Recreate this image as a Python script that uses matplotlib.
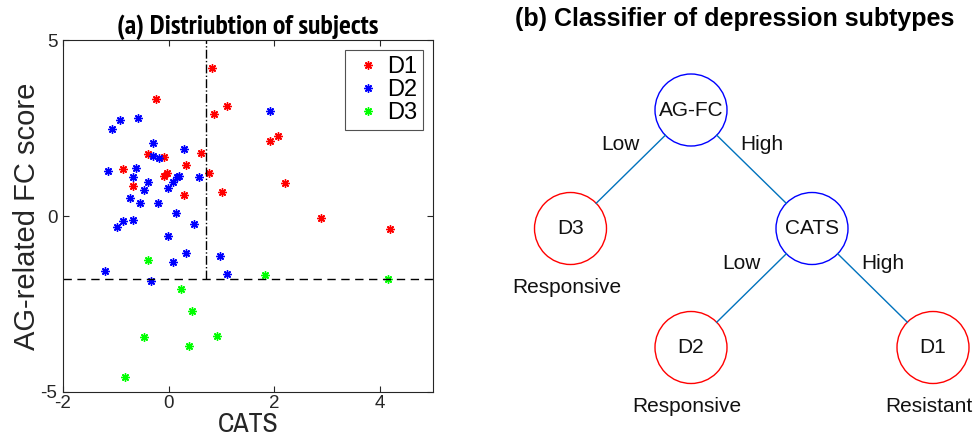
import matplotlib
matplotlib.use("Agg")
import matplotlib.pyplot as plt
from matplotlib.patches import Circle
from matplotlib import font_manager as fm
import numpy as np

plt.rcParams['font.family'] = ['Liberation Sans', 'DejaVu Sans']
plt.rcParams['axes.unicode_minus'] = False

_cands = ['Liberation Sans Narrow', 'Nimbus Sans Narrow', 'Arial Narrow', 'Archivo Narrow',
          'PT Sans Narrow', 'Roboto Condensed', 'IBM Plex Sans Condensed']
_fonts = fm.fontManager.ttflist


def _pick(min_weight):
    for n in _cands:
        for f in _fonts:
            w = f.weight if isinstance(f.weight, int) else (700 if f.weight == 'bold' else 400)
            if f.name == n and f.style == 'normal' and w >= min_weight and w <= min_weight + 200:
                return n
    return 'Liberation Sans'


NARROW = _pick(400)
NARROW_BOLD = _pick(700)

# ---- data (panel a) ----
d1_x = [0.82, -0.24, 1.11, 0.86, -0.40, -0.09, 0.62, 0.33, -0.87, -0.08, -0.03, 0.76,
        -0.68, 0.29, 1.00, 2.06, 1.91, 2.20, 2.88, 4.18]
d1_y = [4.21, 3.31, 3.12, 2.89, 1.76, 1.68, 1.79, 1.46, 1.34, 1.15, 1.22, 1.21,
        0.86, 0.59, 0.67, 2.27, 2.13, 0.94, -0.06, -0.38]
d2_x = [1.92, -0.93, -0.59, -1.07, -0.29, 0.29, -0.29, -0.19, -1.15, -0.62, -0.67, -0.40,
        0.20, 0.15, 0.09, 0.57, -0.47, -0.01, -0.73, -0.54, -0.20, 0.13, -0.68, -0.86,
        -0.97, 0.48, -0.01, 0.09, 0.33, -1.21, -0.33, 0.97, 1.10]
d2_y = [2.98, 2.74, 2.78, 2.47, 2.07, 1.89, 1.71, 1.64, 1.28, 1.37, 1.11, 0.97,
        1.13, 1.11, 0.97, 1.11, 0.75, 0.79, 0.52, 0.37, 0.38, 0.09, -0.11, -0.14,
        -0.30, -0.23, -0.57, -1.31, -1.05, -1.56, -1.85, -1.13, -1.64]
d3_x = [-0.40, 0.23, 0.44, -0.47, 0.38, 0.91, -0.82, 1.82, 4.14]
d3_y = [-1.24, -2.07, -2.70, -3.43, -3.69, -3.40, -4.57, -1.68, -1.79]
cut_cats = 0.7
cut_agfc = -1.8
x_ticks = [-2, 0, 2, 4]
y_ticks = [-5, 0, 5]

# ---- data (panel b) ----
node_labels = ['AG-FC', 'D3', 'CATS', 'D2', 'D1']
node_kind = ['split', 'leaf', 'split', 'leaf', 'leaf']
edges = [(0, 1, 'Low'), (0, 2, 'High'), (2, 3, 'Low'), (2, 4, 'High')]
leaf_notes = {1: 'Responsive', 3: 'Responsive', 4: 'Resistant'}

W, H = 978, 443
fig = plt.figure(figsize=(W / 100, H / 100), dpi=100)

# ---------------- panel (a) ----------------
ax = fig.add_axes([63 / W, (H - 392) / H, 370 / W, 352 / H])
mk = (8, 2, 0)
ax.plot(d1_x, d1_y, linestyle='none', marker=mk, color='#ff0000', ms=6, mew=1.0, label='D1')
ax.plot(d2_x, d2_y, linestyle='none', marker=mk, color='#0000ff', ms=6, mew=1.0, label='D2')
ax.plot(d3_x, d3_y, linestyle='none', marker=mk, color='#00ff00', ms=6, mew=1.0, label='D3')
ax.axhline(cut_agfc, color='black', ls=(0, (6, 4)), lw=1.0)
ax.plot([cut_cats, cut_cats], [cut_agfc, 5], color='black', ls='-.', lw=1.0)
ax.set_xlim(-2, 5)
ax.set_ylim(-5, 5)
ax.set_xticks(x_ticks)
ax.set_yticks(y_ticks)
ax.tick_params(direction='in', top=True, right=True, length=4, width=0.8,
               labelsize=13.5, labelcolor='#262626', color='#262626')
ax.tick_params(axis='x', pad=2)
ax.tick_params(axis='y', pad=4)
for s in ax.spines.values():
    s.set_color('#262626')
    s.set_linewidth(0.8)
ax.set_xlabel('CATS', fontsize=20, color='#262626', labelpad=0, family=[NARROW, 'Liberation Sans'])
ax.set_ylabel('AG-related FC score', fontsize=21, color='#262626', labelpad=0)
ax.set_title('(a) Distriubtion of subjects', fontsize=20, fontweight='bold',
             family=[NARROW_BOLD, 'Liberation Sans'], pad=4)
leg = ax.legend(loc='upper right', fontsize=17, frameon=True, fancybox=False,
                edgecolor='#262626', borderpad=0.25, handlelength=1.45,
                handletextpad=0.08, labelspacing=0.05, borderaxespad=0.42,
                markerscale=1.0)
leg.get_frame().set_linewidth(0.8)

# ---------------- panel (b) ----------------
bx = fig.add_axes([489 / W, 0, (W - 489) / W, 1])
bx.set_xlim(489, W)
bx.set_ylim(H, 0)
bx.axis('off')
node_x = [691, 570.5, 812, 691, 933]
node_y = [110, 228.5, 228.5, 347.5, 347.5]
r = 36
for i, (lab, kind) in enumerate(zip(node_labels, node_kind)):
    col = '#0000ff' if kind == 'split' else '#ff0000'
    bx.add_patch(Circle((node_x[i], node_y[i]), r, fill=False, ec=col, lw=1.0))
    bx.text(node_x[i], node_y[i], lab, ha='center', va='center', fontsize=15, color='#111111')
for a, b, lab in edges:
    dx, dy = node_x[b] - node_x[a], node_y[b] - node_y[a]
    d = np.hypot(dx, dy)
    ux, uy = dx / d, dy / d
    bx.plot([node_x[a] + ux * r, node_x[b] - ux * r], [node_y[a] + uy * r, node_y[b] - uy * r],
            color='#0072bd', lw=1.0)
    bx.text(node_x[a] + (-71 if lab == 'Low' else 71), node_y[a] + 35, lab,
            ha='center', va='center', fontsize=15, color='#111111')
for i, note in leaf_notes.items():
    bx.text(node_x[i] - 4, node_y[i] + 59, note, ha='center', va='center', fontsize=15,
            color='#111111')
fig.text(735 / W, 1 - 19 / H, '(b) Classifier of depression subtypes', ha='center', va='center',
         fontsize=18, fontweight='bold', family=['Liberation Sans'])

fig.savefig('out.png', dpi=100)
